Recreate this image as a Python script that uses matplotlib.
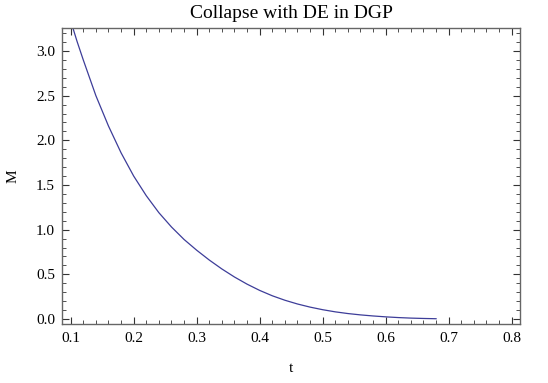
import matplotlib
matplotlib.use("Agg")
import matplotlib.pyplot as plt
from matplotlib.ticker import MultipleLocator, FormatStrFormatter

plt.rcParams['font.family'] = ['Liberation Serif', 'DejaVu Serif']

# Data
t_vals = [0.103, 0.11, 0.12, 0.14, 0.16, 0.18, 0.20, 0.22, 0.24, 0.26,
          0.28, 0.30, 0.32, 0.34, 0.36, 0.38, 0.40, 0.42, 0.44, 0.46,
          0.48, 0.50, 0.52, 0.54, 0.56, 0.58, 0.60, 0.62, 0.64, 0.66, 0.68]
M_vals = [3.27, 3.11, 2.90, 2.50, 2.16, 1.86, 1.60, 1.38, 1.19, 1.03,
          0.89, 0.77, 0.66, 0.56, 0.47, 0.39, 0.32, 0.26, 0.21, 0.168,
          0.133, 0.104, 0.080, 0.061, 0.046, 0.034, 0.024, 0.016, 0.010, 0.006, 0.003]

title = "Collapse with DE in DGP"
xlabel = "t"
ylabel = "M"

fig = plt.figure(figsize=(5.48, 3.83), dpi=100)
ax = fig.add_axes([62/548, 1-324/383, (520-62)/548, (324-28)/383])
ax.plot(t_vals, M_vals, color='#3d3d99', lw=0.9)

ax.set_xlim(0.0862, 0.8132)
ax.set_ylim(-0.056, 3.258)

ax.xaxis.set_major_locator(MultipleLocator(0.1))
ax.xaxis.set_minor_locator(MultipleLocator(0.02))
ax.yaxis.set_major_locator(MultipleLocator(0.5))
ax.yaxis.set_minor_locator(MultipleLocator(0.1))
ax.xaxis.set_major_formatter(FormatStrFormatter('%.1f'))
ax.yaxis.set_major_formatter(FormatStrFormatter('%.1f'))

frame_col = '#666666'
for s in ax.spines.values():
    s.set_color(frame_col)
    s.set_linewidth(1.0)
ax.tick_params(which='both', direction='in', top=True, right=True,
               color='#333333', labelsize=11, labelcolor='black')
ax.tick_params(which='major', length=5, width=0.8)
ax.tick_params(axis='x', which='major', pad=6)
ax.tick_params(axis='y', which='major', pad=5)
ax.tick_params(which='minor', length=2.8, width=0.6)

ax.set_title(title, fontsize=14, pad=7)
ax.set_xlabel(xlabel, fontsize=11, labelpad=12)
ax.set_ylabel(ylabel, fontsize=11, labelpad=12)

fig.savefig("out.png", dpi=100)
